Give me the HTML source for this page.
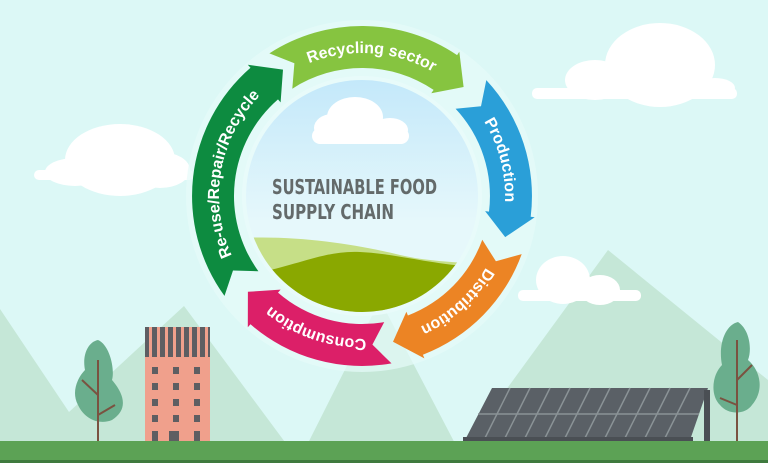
<!DOCTYPE html>
<html><head><meta charset="utf-8"><style>
html,body{margin:0;padding:0;width:768px;height:463px;overflow:hidden;background:#dcf8f6}
svg{display:block}
</style></head><body>
<svg id="s" width="768" height="463" viewBox="0 0 768 463" xmlns="http://www.w3.org/2000/svg">
<defs>
<linearGradient id="sky" x1="0" y1="0" x2="0" y2="1"><stop offset="0" stop-color="#c3e8fa"/><stop offset="0.6" stop-color="#e6f8fb"/></linearGradient>
<clipPath id="cc"><circle cx="362" cy="196" r="116"/></clipPath>
</defs>
<rect width="768" height="463" fill="#dcf8f6"/>
<!-- mountains -->
<polygon points="0,309 69,412 184,306 299,461 380,300 460,453 608,250 768,380 768,463 0,463" fill="#c5e7d7"/>
<!-- clouds -->
<g fill="#fff">
<ellipse cx="120" cy="160" rx="55" ry="36"/><ellipse cx="75" cy="172" rx="30" ry="14"/><ellipse cx="160" cy="170" rx="30" ry="18"/><rect x="34" y="170" width="160" height="10" rx="5"/>
<ellipse cx="660" cy="65" rx="55" ry="42"/><ellipse cx="595" cy="80" rx="30" ry="20"/><ellipse cx="715" cy="88" rx="20" ry="10"/><rect x="532" y="88" width="205" height="11" rx="5"/>
<ellipse cx="563" cy="280" rx="27" ry="24"/><ellipse cx="600" cy="290" rx="20" ry="15"/><rect x="518" y="290" width="123" height="11" rx="5"/>
</g>
<!-- halo -->
<circle cx="362" cy="196" r="176" fill="#e6fbf9" opacity="0.7"/>
<g id="ring"></g>
<!-- inner circle -->
<circle cx="362" cy="196" r="120" fill="#e8fbfa"/>
<g clip-path="url(#cc)">
<rect x="240" y="76" width="250" height="245" fill="url(#sky)"/>
<path d="M240,238 C300,235 360,245 400,255 C430,262 460,262 490,265 L490,330 L240,330Z" fill="#c6df87"/>
<path d="M240,275 C290,270 320,250 360,252 C400,254 430,265 490,268 L490,330 L240,330Z" fill="#8aa800"/>
</g>
<g fill="#fff"><ellipse cx="355" cy="117" rx="28" ry="20"/><ellipse cx="332" cy="128" rx="18" ry="14"/><ellipse cx="390" cy="130" rx="18" ry="12"/><rect x="312" y="128" width="97" height="16" rx="8"/></g>
<text x="272" y="194" textLength="165" lengthAdjust="spacingAndGlyphs" font-family="'DejaVu Sans Condensed','Liberation Sans',sans-serif" font-weight="bold" font-size="20" fill="#636a6a">SUSTAINABLE FOOD</text>
<text x="272" y="219" textLength="122" lengthAdjust="spacingAndGlyphs" font-family="'DejaVu Sans Condensed','Liberation Sans',sans-serif" font-weight="bold" font-size="20" fill="#636a6a">SUPPLY CHAIN</text>
<!-- building -->
<rect x="145" y="327" width="65" height="116" fill="#f0a08c"/>
<rect x="145" y="327" width="65" height="30" fill="#5e5e62"/>
<g fill="#f0a08c"><rect x="149" y="327" width="3" height="30"/><rect x="157" y="327" width="3" height="30"/><rect x="165" y="327" width="3" height="30"/><rect x="173" y="327" width="3" height="30"/><rect x="181" y="327" width="3" height="30"/><rect x="189" y="327" width="3" height="30"/><rect x="197" y="327" width="3" height="30"/><rect x="205" y="327" width="3" height="30"/></g>
<g fill="#5e5e62">
<rect x="152" y="367" width="6" height="7"/><rect x="173" y="367" width="6" height="7"/><rect x="194" y="367" width="6" height="7"/>
<rect x="152" y="383" width="6" height="7"/><rect x="173" y="383" width="6" height="7"/><rect x="194" y="383" width="6" height="7"/>
<rect x="152" y="399" width="6" height="7"/><rect x="173" y="399" width="6" height="7"/><rect x="194" y="399" width="6" height="7"/>
<rect x="152" y="415" width="6" height="7"/><rect x="173" y="415" width="6" height="7"/><rect x="194" y="415" width="6" height="7"/>
<rect x="152" y="431" width="6" height="12"/><rect x="169" y="431" width="10" height="12"/><rect x="194" y="431" width="6" height="12"/>
</g>
<!-- trees -->
<path d="M98,340 C110,345 115,370 112,380 C125,395 128,410 112,420 C100,425 85,420 78,405 C70,390 80,375 85,370 C82,355 88,342 98,340Z" fill="#6aae8d"/>
<path d="M98,360 L98,443 M98,395 L82,380 M98,415 L115,405" stroke="#7a5240" stroke-width="2" fill="none"/>
<path d="M738,322 C750,330 752,350 748,360 C760,370 765,390 752,405 C745,415 728,415 720,405 C710,395 712,375 722,365 C718,345 725,325 738,322Z" fill="#6aae8d"/>
<path d="M737,340 L737,443 M737,380 L752,365 M737,405 L720,398" stroke="#7a5240" stroke-width="2" fill="none"/>
<!-- solar -->
<polygon points="492,388 708,388 690,440 465,440" fill="#5a6066"/>
<g stroke="#8a9296" stroke-width="1.5">
<line x1="478" y1="414" x2="699" y2="414"/>
<line x1="510" y1="388" x2="484" y2="440"/><line x1="530" y1="388" x2="504" y2="440"/><line x1="550" y1="388" x2="524" y2="440"/><line x1="570" y1="388" x2="544" y2="440"/><line x1="590" y1="388" x2="564" y2="440"/><line x1="610" y1="388" x2="584" y2="440"/><line x1="630" y1="388" x2="604" y2="440"/><line x1="650" y1="388" x2="624" y2="440"/><line x1="670" y1="388" x2="644" y2="440"/><line x1="690" y1="388" x2="664" y2="440"/>
</g>
<rect x="463" y="437" width="230" height="5" fill="#4a4f54"/>
<rect x="704" y="390" width="6" height="53" fill="#4a4f54"/>
<!-- ground -->
<rect x="0" y="441" width="768" height="22" fill="#5ca255"/>
<rect x="0" y="460" width="768" height="3" fill="#3f7a3e"/>
</svg>
<script>
var cx=362,cy=196,ns="http://www.w3.org/2000/svg",g=document.getElementById('ring');
function P(a,r){var t=(a-90)*Math.PI/180;return (cx+r*Math.cos(t)).toFixed(1)+','+(cy+r*Math.sin(t)).toFixed(1);}
var segs=[[-33,41,'#86c440','Recycling sector'],[47,104,'#2a9fd8','Production'],[110,166,'#ec8424','Distribution'],[170,228,'#dc1f68','Consumption'],[234,326,'#0d8b40','Re-use/Repair/Recycle']];
var r1=128,r2=170,rm=149;
segs.forEach(function(s,i){
 var a0=s[0],a1=s[1];
 var d='M'+P(a0,r2)+' A'+r2+','+r2+' 0 0 1 '+P(a1-7,r2)+' L'+P(a1-7,r2+4)+' L'+P(a1+2,rm)+' L'+P(a1-7,r1-4)+' L'+P(a1-7,r1)+' A'+r1+','+r1+' 0 0 0 '+P(a0,r1)+' L'+P(a0+6,rm)+' Z';
 var p=document.createElementNS(ns,'path');p.setAttribute('d',d);p.setAttribute('fill',s[2]);g.appendChild(p);
 var tp=document.createElementNS(ns,'path');tp.setAttribute('id','tp'+i);tp.setAttribute('fill','none');
 var rt=rm-6;
 tp.setAttribute('d','M'+P(a0,rt)+' A'+rt+','+rt+' 0 0 1 '+P(a1,rt));g.appendChild(tp);
 var t=document.createElementNS(ns,'text');t.setAttribute('font-family','Liberation Sans,sans-serif');t.setAttribute('font-weight','bold');t.setAttribute('font-size','16');t.setAttribute('fill','#fff');
 var q=document.createElementNS(ns,'textPath');q.setAttribute('href','#tp'+i);q.setAttribute('startOffset','50%');q.setAttribute('text-anchor','middle');q.textContent=s[3];t.appendChild(q);g.appendChild(t);
});
</script>
</body></html>
